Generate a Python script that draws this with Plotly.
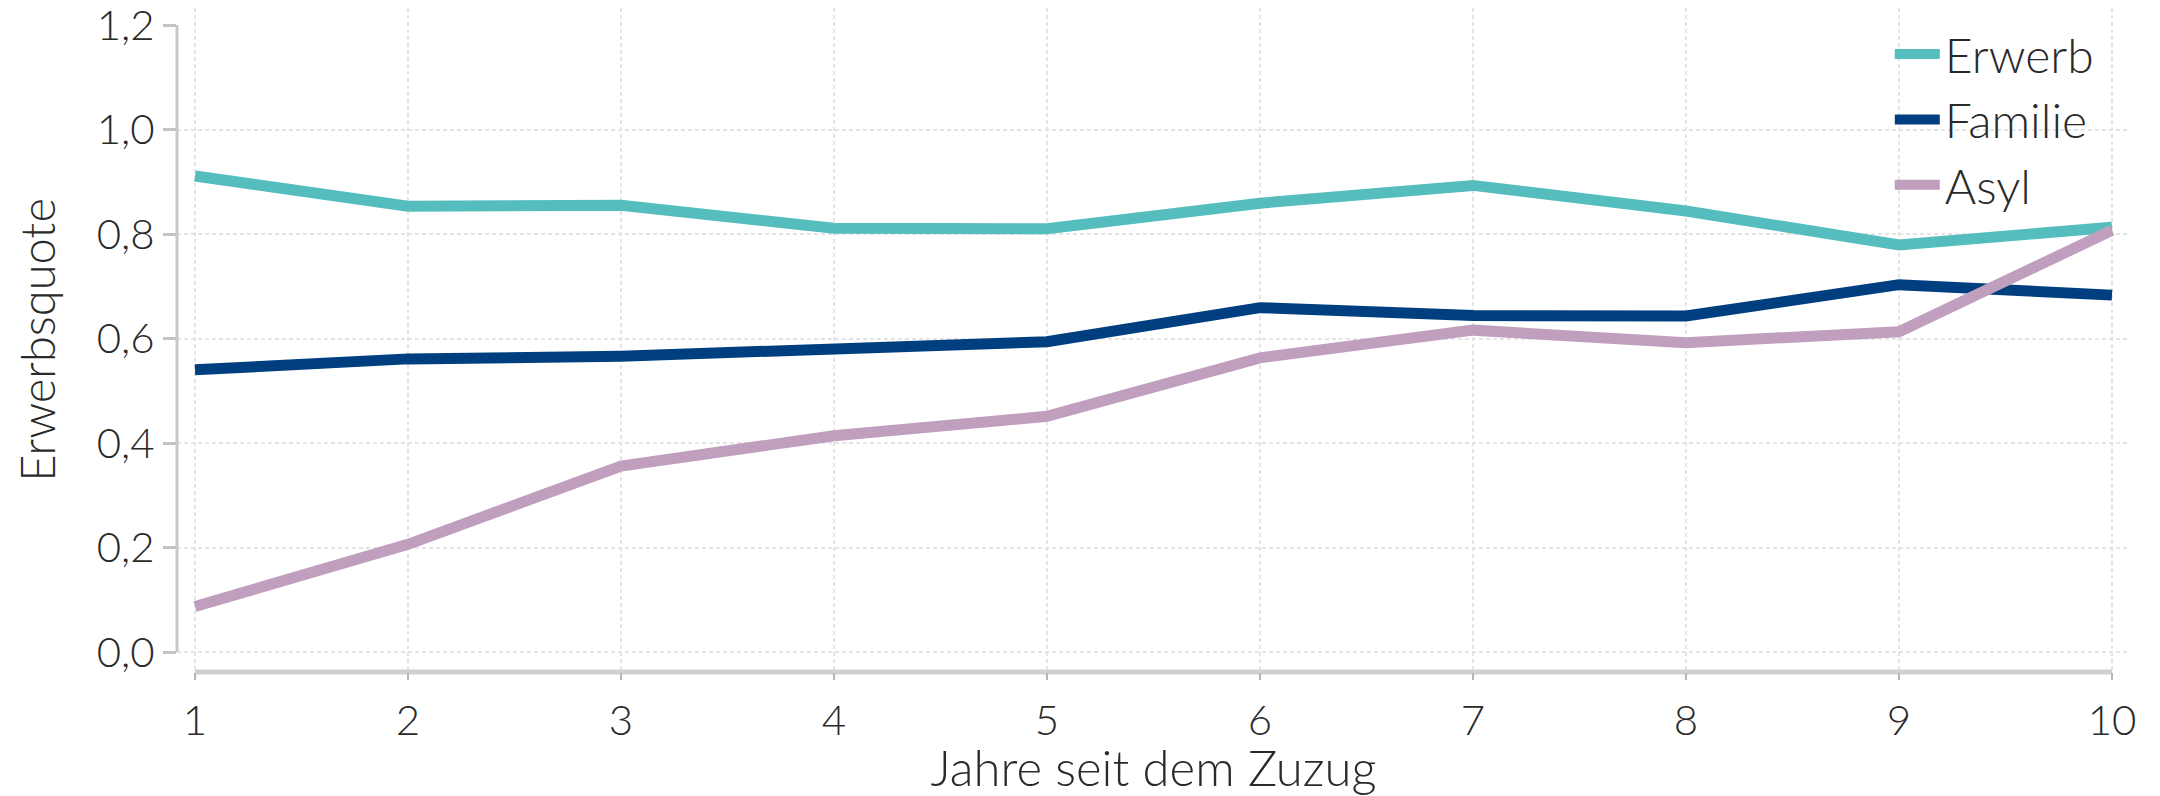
import plotly.graph_objects as go

jahre = [1, 2, 3, 4, 5, 6, 7, 8, 9, 10]
erwerb = [0.911, 0.853, 0.855, 0.811, 0.810, 0.859, 0.893, 0.844, 0.779, 0.813]
familie = [0.540, 0.561, 0.566, 0.578, 0.594, 0.659, 0.644, 0.643, 0.703, 0.683]
asyl = [0.087, 0.206, 0.356, 0.414, 0.451, 0.563, 0.616, 0.592, 0.613, 0.807]

series_names = ["Erwerb", "Familie", "Asyl"]
series_colors = ["#56BDBE", "#003F7F", "#BF9EBE"]
y_ticks = [0.0, 0.2, 0.4, 0.6, 0.8, 1.0, 1.2]
y_grid = [0.0, 0.2, 0.4, 0.6, 0.8, 1.0]

FONT = "Lato"
TXT = "#2a2a2a"

fig = go.Figure()
for name, vals, col in zip(series_names, [erwerb, familie, asyl], series_colors):
    fig.add_trace(go.Scatter(x=jahre, y=vals, mode="lines", name=name,
                             line=dict(color=col, width=11)))
# helper trace so that the label axis renders
fig.add_trace(go.Scatter(x=[None], y=[None], yaxis="y2", showlegend=False,
                         hoverinfo="skip"))

# the page body has an 8px margin, so the figure is 8px smaller than the window
W, H = 2152, 788
L, R, T, B = 169, 30, 0, 124
plot_w = W - L - R
plot_h = H - T - B
xpx = 213.0  # pixels per year
ypx = 522.5  # pixels per unit
x_lo = 1 - 18 / xpx
x_hi = x_lo + plot_w / xpx
y_lo = -20 / ypx
y_hi = y_lo + plot_h / ypx

fig.update_layout(
    width=W, height=H,
    margin=dict(l=L, r=R, t=T, b=B, pad=0, autoexpand=False),
    paper_bgcolor="white", plot_bgcolor="white",
    separators=",.",
    font=dict(family=FONT, size=42, color=TXT, weight=300),
    showlegend=True,
    legend=dict(x=0.877, y=0.9875, xanchor="left", yanchor="top",
                bgcolor="rgba(0,0,0,0)", font=dict(size=48, family=FONT, color=TXT, weight=300),
                itemwidth=45, tracegroupgap=0),
    xaxis=dict(range=[x_lo, x_hi], tickvals=jahre, ticktext=[str(j) for j in jahre],
               showgrid=True, gridcolor="#e4e4e4", gridwidth=2, griddash="4px,3px",
               zeroline=False, showline=False, ticks="outside", ticklen=7, tickwidth=2,
               tickcolor="#b5b5b5", tickfont=dict(size=42), automargin=False,
               ticklabelstandoff=5,
               title=dict(text="Jahre seit dem Zuzug", font=dict(size=49), standoff=1)),
    yaxis=dict(range=[y_lo, y_hi], tickvals=y_grid, showticklabels=False, ticks="",
               showgrid=True, gridcolor="#e4e4e4", gridwidth=2, griddash="4px,3px",
               zeroline=False, showline=False, automargin=False),
    yaxis2=dict(range=[y_lo, y_hi], overlaying="y", side="left", anchor="x",
                tickvals=y_ticks, tickformat=".1f", showgrid=False, zeroline=False,
                showline=False, ticks="outside", ticklen=13, tickwidth=3,
                tickcolor="#c4c4c4", tickfont=dict(size=42), automargin=False,
                ticklabeloverflow="allow",
                title=dict(text="Erwerbsquote", font=dict(size=47), standoff=26)),
)

# axis lines drawn on the data scales
fig.add_shape(type="line", xref="paper", yref="y", x0=0, x1=0, y0=y_ticks[0], y1=y_ticks[-1],
              line=dict(color="#c8c8c8", width=3), layer="above")
fig.add_shape(type="line", xref="x", yref="paper", x0=jahre[0], x1=jahre[-1], y0=0, y1=0,
              line=dict(color="#d0d0d0", width=5), layer="below")

fig.write_html("out.html")
